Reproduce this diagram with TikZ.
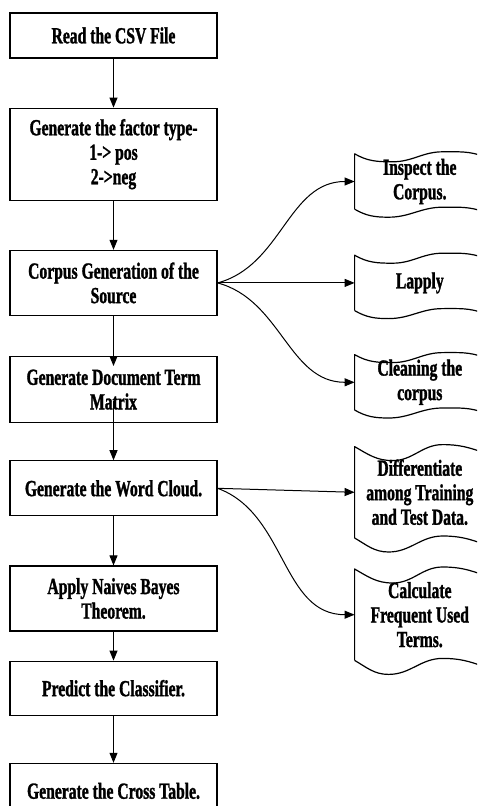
\documentclass[tikz,border=0pt]{standalone}
\usepackage{fontspec}
\setmainfont{Liberation Serif}[FakeStretch=0.68, BoldFeatures={FakeBold=1.3}]
\usetikzlibrary{positioning}
\usetikzlibrary{arrows.meta}

\tikzset{
  stepbox/.style={draw, line width=1.2pt, rectangle, minimum width=207pt,
    align=center, inner sep=0pt, font=\bfseries\fontsize{23}{24.5}\selectfont},
  flag/.style={rectangle, minimum width=130pt,
    align=center, inner sep=0pt, font=\bfseries\fontsize{23}{24.5}\selectfont},
  flagline/.style={line width=1.2pt, line join=round},
  arr/.style={-{Triangle[length=10pt,width=8pt]}, line width=1pt},
}

% wavy outline round a flag node: #1 node, #2 depth of the wave
\newcommand{\waveflag}[2]{
  \draw[flagline] (#1.south west) -- (#1.north west)
    to[out=-30, in=180] ++(38pt,-#2) to[out=0, in=180] ++(50pt,#2+2pt)
    to[out=0, in=160] ++(42pt,-#2*0.6);
  \draw[flagline] (#1.south west)
    to[out=-30, in=180] ++(34pt,-#2) to[out=0, in=180] ++(54pt,#2+2pt)
    to[out=0, in=160] ++(42pt,-#2*0.6);
}

\begin{document}
\begin{tikzpicture}
\useasboundingbox (0pt,0pt) rectangle (477pt,-806pt);
\clip (0pt,0pt) rectangle (477pt,-806pt);

        % main column
        \node[stepbox, minimum height=45pt] (read) at (113.5pt,-35.5pt) {Read the CSV File};
        \node[stepbox, minimum height=92pt, below=49pt of read] (factor) {Generate the factor type-\\1-> pos\\2->neg};
        \node[stepbox, minimum height=65pt, below=49pt of factor] (corpus) {Corpus Generation of the\\Source};
        \node[stepbox, minimum height=66pt, below=40pt of corpus] (dtm) {Generate Document Term\\Matrix};
        \node[stepbox, minimum height=55pt, below=37pt of dtm] (cloud) {Generate the Word Cloud.};
        \node[stepbox, minimum height=65pt, below=49pt of cloud] (bayes) {Apply Naives Bayes\\Theorem.};
        \node[stepbox, minimum height=54pt, below=29pt of bayes] (predict) {Predict the Classifier.};
        \node[stepbox, minimum height=55pt, below=47pt of predict] (cross) {Generate the Cross Table.};

        % side steps
        \node[flag, minimum height=55pt, right=137pt of corpus] (lapply) {Lapply};
        \node[flag, minimum height=55pt, above=46pt of lapply] (inspect) {Inspect the\\Corpus.};
        \node[flag, minimum height=55pt, below=44pt of lapply] (clean) {Cleaning the\\corpus};
        \node[flag, minimum height=91pt, right=137pt of cloud, yshift=-4pt] (diff) {Differentiate\\among Training\\and Test Data.};
        \node[flag, minimum height=91pt, below=31pt of diff] (freq) {Calculate\\Frequent Used\\Terms.};

        \waveflag{inspect}{8pt}
        \waveflag{lapply}{8pt}
        \waveflag{clean}{8pt}
        \waveflag{diff}{14pt}
        \waveflag{freq}{14pt}

        \draw[arr] (read) -- (factor);
        \draw[arr] (factor) -- (corpus);
        \draw[arr, shorten >=-10pt] (corpus) -- (dtm);
        \draw[arr, shorten <=-22pt] (dtm) -- (cloud);
        \draw[arr] (cloud) -- (bayes);
        \draw[arr] (bayes) -- (predict);
        \draw[arr] (predict) -- (cross);

        \draw[arr] (corpus.east) to[out=15, in=180] (inspect.west);
        \draw[arr] (corpus.east) -- (lapply.west);
        \draw[arr] (corpus.east) to[out=-15, in=180] (clean.west);
        \draw[arr] (cloud.east) -- (diff.west);
        \draw[arr] (cloud.east) to[out=-20, in=180] (freq.west);
\end{tikzpicture}
\end{document}
